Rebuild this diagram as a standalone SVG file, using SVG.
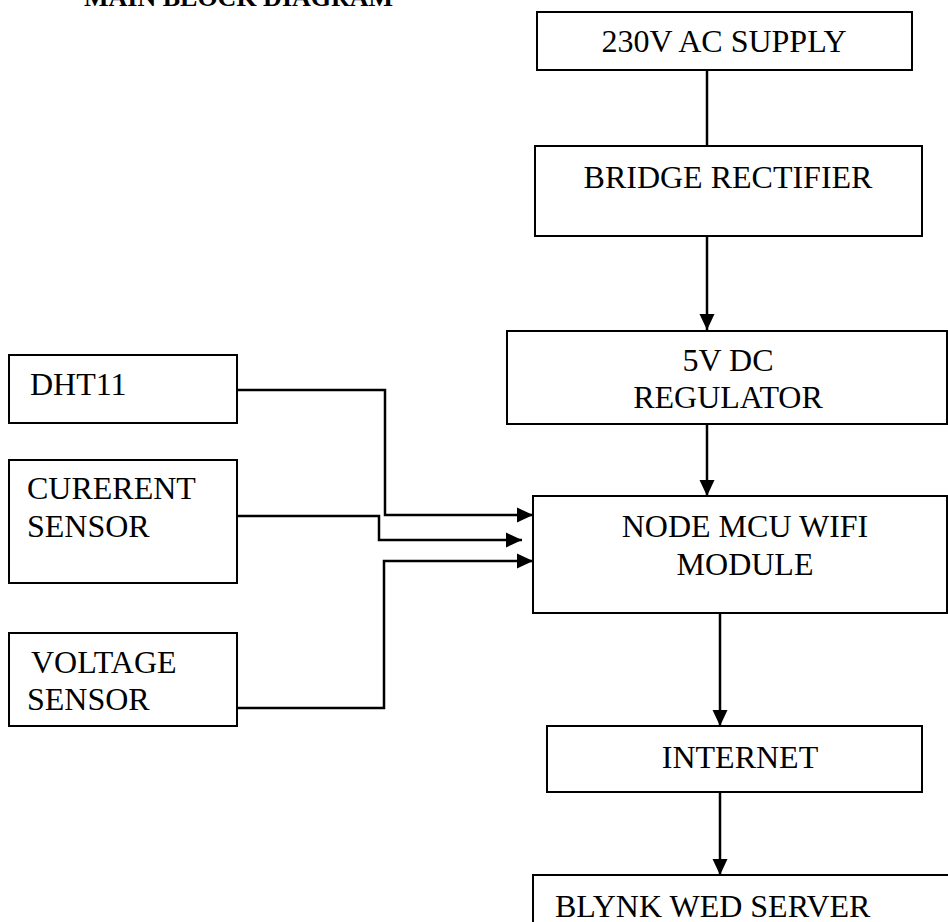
<svg xmlns="http://www.w3.org/2000/svg" width="948" height="922" viewBox="0 0 948 922">
<style>
  .box { fill: #fff; stroke: #000; stroke-width: 2; }
  .t { font-family: "Liberation Serif", "Times New Roman", serif; font-size: 32px; fill: #000; }
  .c { text-anchor: middle; }
  .title { font-family: "Liberation Serif", "Times New Roman", serif; font-size: 26px; font-weight: bold; fill: #000; }
  .wire { fill: none; stroke: #000; stroke-width: 2.5; }
</style>
<defs>
  <marker id="ah" markerUnits="userSpaceOnUse" markerWidth="17" markerHeight="17" viewBox="0 0 17 17" refX="16" refY="8.5" orient="auto">
    <path d="M0,1 L16,8.5 L0,16 Z" fill="#000"/>
  </marker>
</defs>
<rect width="948" height="922" fill="#fff"/>
<text class="title" x="84" y="6">MAIN BLOCK DIAGRAM</text>

<g id="connectors">
  <line class="wire" x1="707" y1="70" x2="707" y2="146"/>
  <line class="wire" x1="707" y1="236" x2="707" y2="330" marker-end="url(#ah)"/>
  <line class="wire" x1="707" y1="424" x2="707" y2="496" marker-end="url(#ah)"/>
  <line class="wire" x1="720" y1="613" x2="720" y2="726" marker-end="url(#ah)"/>
  <line class="wire" x1="720" y1="792" x2="720" y2="875" marker-end="url(#ah)"/>
  <polyline class="wire" points="237,390 385,390 385,515 533,515" marker-end="url(#ah)"/>
  <polyline class="wire" points="237,516 379,516 379,540 522,540" marker-end="url(#ah)"/>
  <polyline class="wire" points="237,708 384,708 384,561 533,561" marker-end="url(#ah)"/>
</g>

<g id="ac-supply">
  <rect class="box" x="537" y="12" width="375" height="58"/>
  <text class="t c" x="724" y="52">230V AC SUPPLY</text>
</g>
<g id="bridge-rectifier">
  <rect class="box" x="535" y="146" width="387" height="90"/>
  <text class="t c" x="728" y="188">BRIDGE RECTIFIER</text>
</g>
<g id="dc-regulator">
  <rect class="box" x="507" y="331" width="440" height="93"/>
  <text class="t c" x="728" y="371">5V DC</text>
  <text class="t c" x="728" y="408">REGULATOR</text>
</g>
<g id="nodemcu">
  <rect class="box" x="533" y="496" width="414" height="117"/>
  <text class="t c" x="745" y="537">NODE MCU WIFI</text>
  <text class="t c" x="745" y="575">MODULE</text>
</g>
<g id="internet">
  <rect class="box" x="547" y="726" width="375" height="66"/>
  <text class="t c" x="740" y="768">INTERNET</text>
</g>
<g id="blynk">
  <rect class="box" x="533" y="875" width="430" height="60"/>
  <text class="t" x="555" y="917">BLYNK WED SERVER</text>
</g>
<g id="dht11">
  <rect class="box" x="9" y="355" width="228" height="68"/>
  <text class="t" x="30" y="395">DHT11</text>
</g>
<g id="current-sensor">
  <rect class="box" x="9" y="460" width="228" height="123"/>
  <text class="t" x="27" y="499">CURERENT</text>
  <text class="t" x="27" y="537">SENSOR</text>
</g>
<g id="voltage-sensor">
  <rect class="box" x="9" y="633" width="228" height="93"/>
  <text class="t" x="31" y="673">VOLTAGE</text>
  <text class="t" x="27" y="710">SENSOR</text>
</g>
</svg>
